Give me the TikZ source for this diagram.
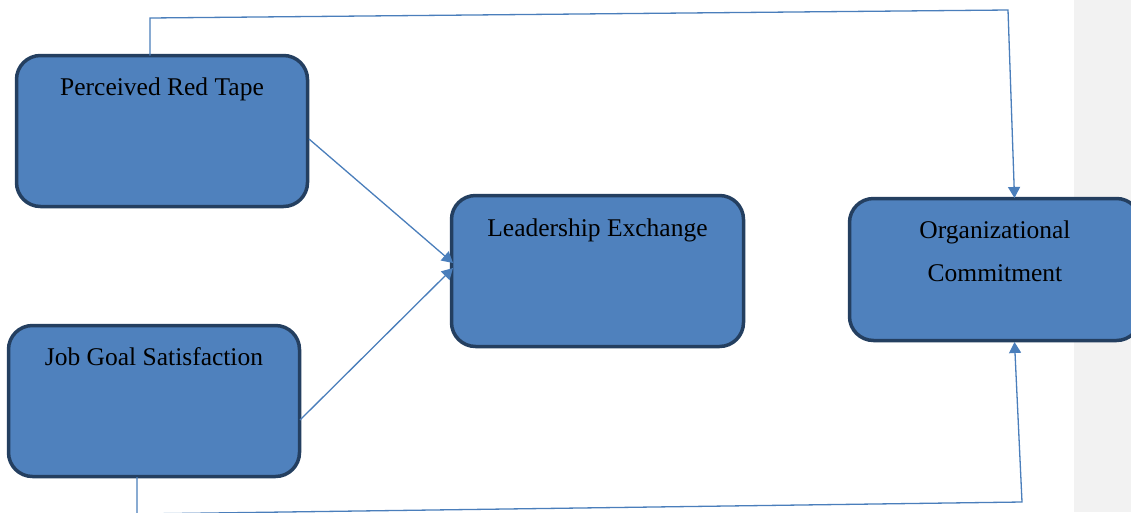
\documentclass[tikz,border=0pt]{standalone}
\usepackage{fontspec}
\setmainfont{Liberation Serif}
\usetikzlibrary{arrows.meta}
\definecolor{boxfill}{HTML}{4F81BD}
\definecolor{boxedge}{HTML}{243F60}
\definecolor{linkc}{HTML}{4A7EBB}
\definecolor{bandgray}{HTML}{F2F2F2}
\tikzset{
  boxnode/.style={draw=boxedge, fill=boxfill, line width=3.5pt, rounded corners=24pt, inner sep=0pt},
  lbl/.style={anchor=base, inner sep=0pt, font=\fontsize{25.5}{30}\selectfont, text=black},
  link/.style={draw=linkc, line width=1.3pt},
  arr/.style={link, -{Triangle[length=11pt,width=12pt]}}
}
\begin{document}
\begin{tikzpicture}[x=1pt,y=-1pt]
\useasboundingbox (0,0) rectangle (1131,512);
\clip (0,0) rectangle (1131,512);
\fill[white] (0,0) rectangle (1131,512);
\fill[bandgray] (1074,0) rectangle (1131,512);

\node[boxnode, minimum width=291pt, minimum height=151pt] (prt) at (162,131) {};
\node[boxnode, minimum width=291pt, minimum height=151pt] (jgs) at (154,401) {};
\node[boxnode, minimum width=292pt, minimum height=151pt] (lx) at (597.5,271) {};
\node[boxnode, minimum width=291pt, minimum height=142pt] (oc) at (995,269.5) {};

\node[lbl] (tprt) at (162,95) {Perceived Red Tape};
\node[lbl] (tjgs) at (154,365) {Job Goal Satisfaction};
\node[lbl] (tlx) at (597.5,236) {Leadership Exchange};
\node[lbl] (toc1) at (995,238) {Organizational};
\node[lbl] (toc2) at (995,281) {Commitment};

\coordinate (a0) at (150,55.5);
\coordinate (a1) at (150,18);
\coordinate (a2) at (1008,10);
\coordinate (a3) at (1014.5,198);
\draw[arr] (a0) -- (a1) -- (a2) -- (a3);

\coordinate (b0) at (137,477);
\coordinate (b1) at (137,514);
\coordinate (b2) at (1022,502);
\coordinate (b3) at (1014.5,342);
\draw[arr] (b0) -- (b1) -- (b2) -- (b3);

\coordinate (c0) at (309,139);
\coordinate (c1) at (453,263);
\draw[arr] (c0) -- (c1);
\coordinate (d0) at (300,420);
\coordinate (d1) at (453,268);
\draw[arr] (d0) -- (d1);
\end{tikzpicture}
\end{document}
